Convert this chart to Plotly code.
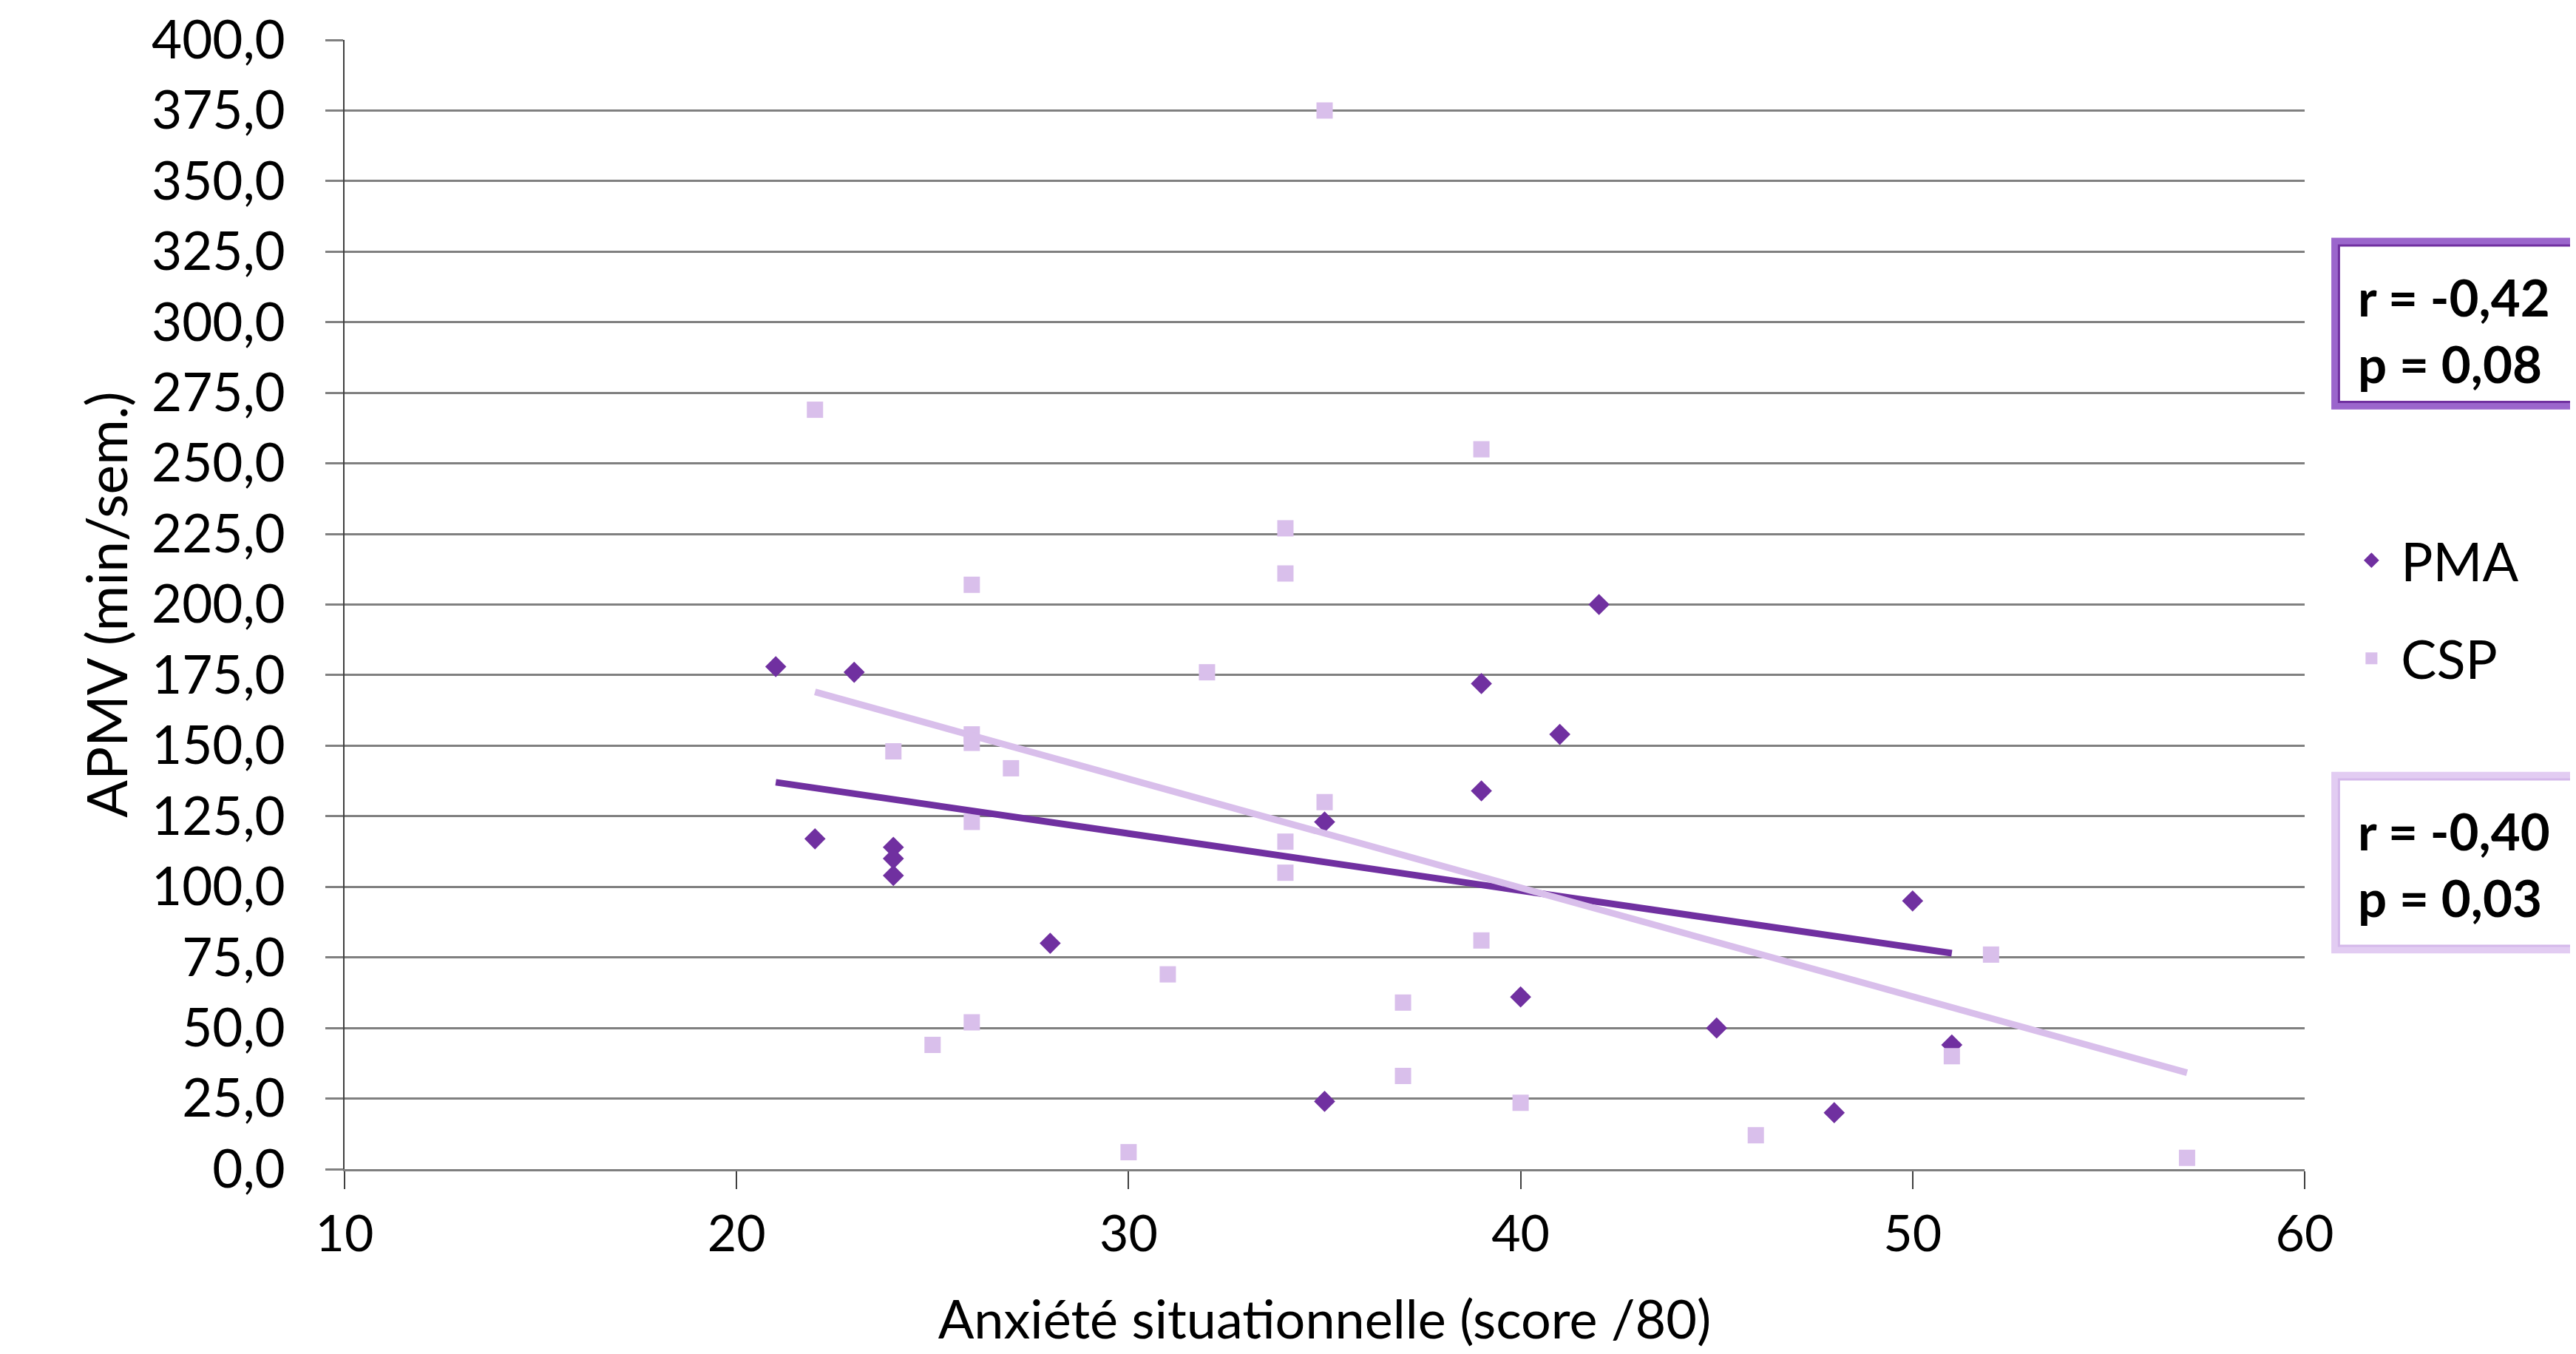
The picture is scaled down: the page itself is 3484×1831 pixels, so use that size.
import numpy as np
import plotly.graph_objects as go

# PMA series
pma_x = [21, 22, 23, 24, 24, 24, 28, 35, 35, 39, 39, 40, 41, 42, 45, 48, 50, 51]
pma_y = [178, 117, 176, 114, 110, 104, 80, 24, 123, 172, 134, 61, 154, 200, 50, 20, 95, 44]

# CSP series
csp_x = [35, 22, 39, 34, 34, 26, 32, 26, 26, 24, 27, 35, 26, 34, 34, 39, 52, 31, 37, 26, 25, 51, 37, 40, 46, 30, 57]
csp_y = [375, 269, 255, 227, 211, 207, 176, 154, 151, 148, 142, 130, 123, 116, 105, 81, 76, 69, 59, 52, 44, 40, 33, 23.5, 12, 6, 4]

stats_pma = "r = -0,42<br>p = 0,08"
stats_csp = "r = -0,40<br>p = 0,03"

PMA_COLOR = "#7030A0"
CSP_COLOR = "#D9BFEB"
FONT = "Lato"


def trend(xs, ys):
    a, b = np.polyfit(xs, ys, 1)
    xx = np.array([min(xs), max(xs)], dtype=float)
    return xx, a * xx + b


fig = go.Figure()
fig.add_trace(go.Scatter(x=pma_x, y=pma_y, mode="markers", name="PMA", legendgroup="a",
                         marker=dict(symbol="diamond", size=22, color=PMA_COLOR)))
fig.add_trace(go.Scatter(x=csp_x, y=csp_y, mode="markers", name="CSP", legendgroup="b",
                         marker=dict(symbol="square", size=22, color=CSP_COLOR)))
tx, ty = trend(pma_x, pma_y)
fig.add_trace(go.Scatter(x=tx, y=ty, mode="lines", showlegend=False,
                         line=dict(color=PMA_COLOR, width=9)))
tx, ty = trend(csp_x, csp_y)
fig.add_trace(go.Scatter(x=tx, y=ty, mode="lines", showlegend=False,
                         line=dict(color=CSP_COLOR, width=9)))

fig.update_layout(
    width=3484, height=1831,
    margin=dict(l=458, r=375, t=46, b=258, autoexpand=False),
    paper_bgcolor="white", plot_bgcolor="white",
    separators=", ",
    font=dict(family=FONT, size=70, color="black"),
    showlegend=True,
    legend=dict(x=1.019, y=0.4955, xanchor="left", yanchor="middle",
                font=dict(size=72), itemsizing="trace", itemwidth=70,
                tracegroupgap=36, bgcolor="rgba(0,0,0,0)"),
)
fig.update_xaxes(range=[10, 60], tickmode="linear", tick0=10, dtick=10,
                 automargin=False,
                 showgrid=False, zeroline=False,
                 showline=True, linecolor="#7F7F7F", linewidth=3,
                 ticks="outside", ticklen=24, tickwidth=2, tickcolor="#404040",
                 ticklabelstandoff=2,
                 tickfont=dict(size=68),
                 title=dict(text="Anxiété situationnelle (score /80)",
                            font=dict(size=72), standoff=56))
fig.update_yaxes(range=[0, 400], tickmode="linear", tick0=0, dtick=25,
                 tickformat=".1f", automargin=False, ticklabeloverflow="allow",
                 showgrid=True, gridcolor="#808080", gridwidth=2.5,
                 zeroline=False,
                 showline=True, linecolor="#404040", linewidth=2,
                 ticks="outside", ticklen=24, tickwidth=2.5, tickcolor="#808080",
                 ticklabelstandoff=40,
                 tickfont=dict(size=71),
                 title=dict(text="APMV (min/sem.)",
                            font=dict(size=75), standoff=8))

# Statistic boxes
for (y0, y1, outer, inner, txt, ty_) in [
    (0.676, 0.8215, "#9B66CC", PMA_COLOR, stats_pma, 0.743),
    (0.1943, 0.3486, "#E2CCF2", "#D4B8EA", stats_csp, 0.270),
]:
    fig.add_shape(type="rect", xref="paper", yref="paper",
                  x0=1.0155, x1=1.16, y0=y0, y1=y1,
                  line=dict(color=outer, width=10), fillcolor="white", layer="below")
    fig.add_shape(type="rect", xref="paper", yref="paper",
                  x0=1.0175, x1=1.16, y0=y0 + 0.0035, y1=y1 - 0.0035,
                  line=dict(color=inner, width=3))
    fig.add_annotation(xref="paper", yref="paper", x=1.0265, y=ty_,
                       xanchor="left", yanchor="middle", align="left",
                       text="<b>" + txt.replace("<br>", "</b><br><b>") + "</b>",
                       showarrow=False, font=dict(size=69, color="black"))

fig.write_html("out.html")
